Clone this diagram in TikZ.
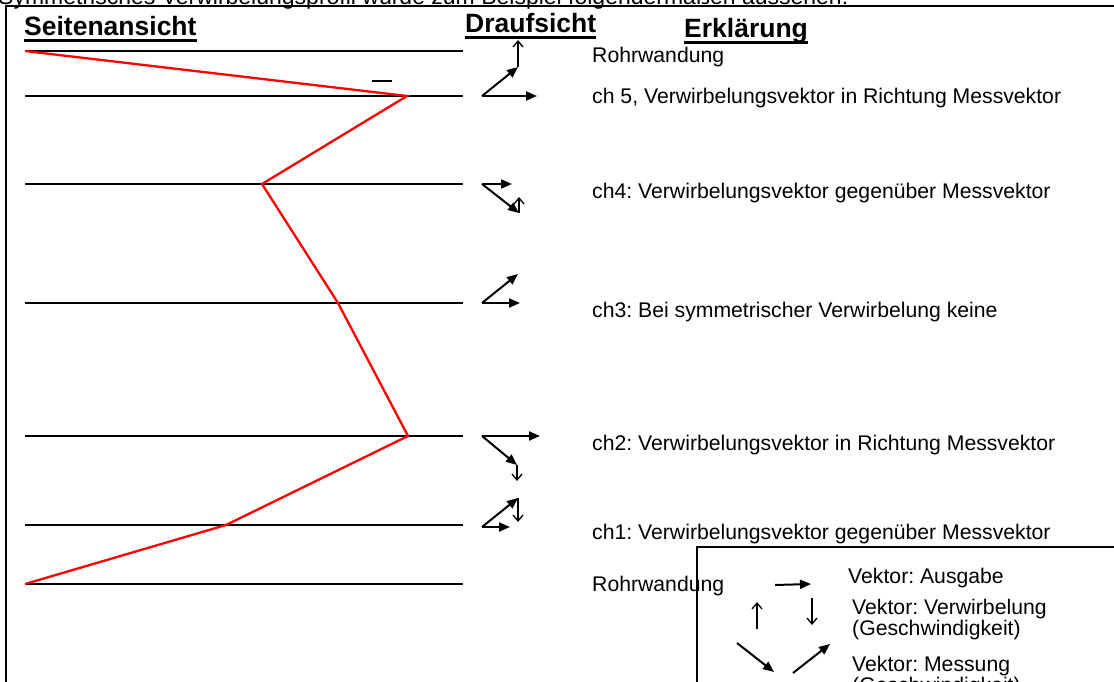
\documentclass[tikz,border=0pt]{standalone}
\usepackage{fontspec}
\setmainfont{Liberation Sans}
\usetikzlibrary{arrows.meta}
\frenchspacing
\begin{document}
\begin{tikzpicture}[x=1bp,y=-1bp,
  wall/.style={line width=2.8bp},
  profile/.style={draw=red, line width=2.3bp, line join=miter},
  frameline/.style={line width=1.7bp},
  body/.style={inner sep=0pt, anchor=base west, font=\fontsize{21.2bp}{24bp}\selectfont},
  head/.style={inner sep=0pt, anchor=base west, font=\fontsize{26.5bp}{30bp}\selectfont\bfseries},
  uline/.style={line width=2.8bp},
  meas/.style={line width=2bp, -{Triangle[length=11bp,width=9bp]}},
  swirl/.style={line width=1.3bp, -{Straight Barb[length=6bp,width=10bp]}},
]
\useasboundingbox (0,0) rectangle (1114,682);

% running text above the frame (cut by the page edge)
\node[inner sep=0pt, anchor=base west, font=\fontsize{23bp}{28bp}\selectfont] (intro) at (-2,5)
  {Symmetrisches Verwirbelungsprofil würde zum Beispiel folgendermaßen aussehen:};

% frame
\draw[frameline] (6,690) -- (6,6) -- (1120,6);

% headings
\node[head] (hs) at (24,36) {Seitenansicht};
\node[head] (hd) at (465,33) {Draufsicht};
\node[head] (he) at (684,38) {Erklärung};
\foreach \h in {hs,hd,he}
  \draw[uline] ([yshift=-4.5bp]\h.base west) -- ([yshift=-4.5bp]\h.base east);

% channel planes in the side view
\foreach \y in {51,96,184,303,436,525,584}
  \draw[wall] (25,\y) -- (463,\y);
\draw[line width=2.2bp] (372,81) -- (392,81);

% velocity profile
\coordinate (p0) at (25,51);
\coordinate (p5) at (407,96);
\coordinate (p4) at (262,184);
\coordinate (p3) at (338,303);
\coordinate (p2) at (408,436);
\coordinate (p1) at (226,525);
\coordinate (p6) at (25,584);
\draw[profile] (p0) -- (p5) -- (p4) -- (p3) -- (p2) -- (p1) -- (p6);

% top views: output, measurement and swirl vectors
% ch 5
\coordinate (o5) at (482,96);
\coordinate (m5) at (518,67);
\coordinate (a5) at (537,96);
\coordinate (s5) at (518,40);
\draw[meas] (o5) -- (a5);
\draw[meas] (o5) -- (m5);
\draw[swirl] (m5) -- (s5);
% ch 4
\coordinate (o4) at (482,184);
\coordinate (m4) at (519,213);
\coordinate (a4) at (512,184);
\coordinate (s4) at (519,197);
\draw[meas] (o4) -- (a4);
\draw[meas] (o4) -- (m4);
\draw[swirl] (m4) -- (s4);
% ch 3
\coordinate (o3) at (482,303);
\coordinate (m3) at (518,274);
\coordinate (a3) at (520,303);
\draw[meas] (o3) -- (a3);
\draw[meas] (o3) -- (m3);
% ch 2
\coordinate (o2) at (482,436);
\coordinate (m2) at (517,465);
\coordinate (a2) at (540,436);
\coordinate (s2) at (517,481);
\draw[meas] (o2) -- (a2);
\draw[meas] (o2) -- (m2);
\draw[swirl] (m2) -- (s2);
% ch 1
\coordinate (o1) at (482,527);
\coordinate (m1) at (518,498);
\coordinate (a1) at (510,527);
\coordinate (s1) at (518,522);
\draw[meas] (o1) -- (a1);
\draw[meas] (o1) -- (m1);
\draw[swirl] (m1) -- (s1);

% explanations
\node[body] (t6) at (592,63) {Rohrwandung};
\node[body] (t5) at (592,104) {ch 5, Verwirbelungsvektor in Richtung Messvektor};
\node[body] (t4) at (592,199) {ch4: Verwirbelungsvektor gegenüber Messvektor};
\node[body] (t3) at (592,317) {ch3: Bei symmetrischer Verwirbelung keine};
\node[body] (t2) at (592,450) {ch2: Verwirbelungsvektor in Richtung Messvektor};
\node[body] (t1) at (592,539) {ch1: Verwirbelungsvektor gegenüber Messvektor};
\node[body] (t0) at (592,591) {Rohrwandung};

% legend
\draw[frameline] (1120,547) -- (697,547) -- (697,690);
\coordinate (la0) at (775,585);
\coordinate (la1) at (811,584);
\draw[meas] (la0) -- (la1);
\coordinate (lu0) at (757,629);
\coordinate (lu1) at (757,602);
\draw[swirl] (lu0) -- (lu1);
\coordinate (ld0) at (812,598);
\coordinate (ld1) at (812,625);
\draw[swirl] (ld0) -- (ld1);
\coordinate (lm0) at (737,643);
\coordinate (lm1) at (774,672);
\draw[meas] (lm0) -- (lm1);
\coordinate (ln0) at (793,673);
\coordinate (ln1) at (830,644);
\draw[meas] (ln0) -- (ln1);
\node[body] (la) at (848,583) {Vektor: Ausgabe};
\node[body] (lv) at (852,614) {Vektor: Verwirbelung};
\node[body] (lv2) at (852,635) {(Geschwindigkeit)};
\node[body] (lm) at (852,671) {Vektor: Messung};
\node[body] (lm2) at (852,692) {(Geschwindigkeit)};
\end{tikzpicture}
\end{document}
